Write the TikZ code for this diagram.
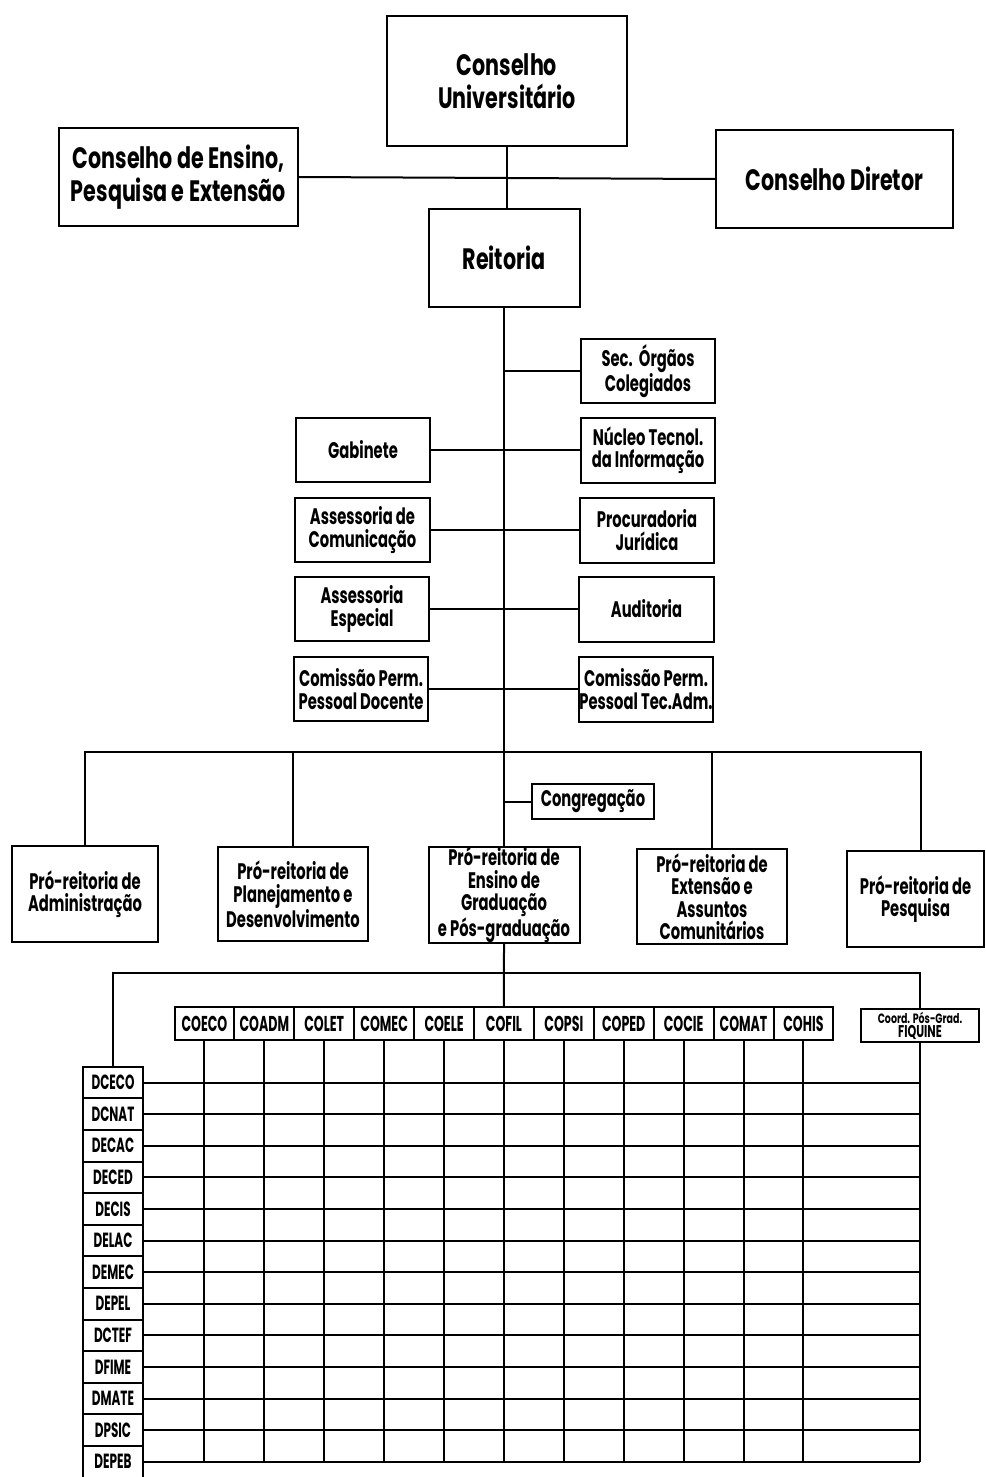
\documentclass[tikz,border=0pt]{standalone}
\usepackage{fontspec}
\setmainfont{Poppins}
\newfontfamily\fA{Poppins}[FakeStretch=0.70]
\newfontfamily\fB{Poppins}[FakeStretch=0.655]
\newfontfamily\fC{Poppins}[FakeStretch=0.585]
\tikzset{
  box/.style={draw, line width=2pt, fill=white, inner sep=0pt, align=center},
  big/.style={box, font=\fA\bfseries\fontsize{29.5}{33}\selectfont},
  mid/.style={box, font=\fB\bfseries\fontsize{22.5}{22.5}\selectfont},
  hdr/.style={box, font=\fC\bfseries\fontsize{21.5}{20}\selectfont, minimum width=59.9, minimum height=33},
  rowb/.style={box, font=\fC\bfseries\fontsize{20.5}{19}\selectfont, minimum width=60, minimum height=31.6},
  ln/.style={line width=2pt}
}
\begin{document}
\begin{tikzpicture}[x=1pt,y=-1pt]
\fill[white] (0,0) rectangle (985,1477);
\useasboundingbox (0,0) rectangle (985,1477);
% top councils
\node[big, minimum width=240, minimum height=130] (cu) at (507,81) {Conselho\\Universitário};
\node[big, minimum width=239, minimum height=97] (ce) at (178.5,177) {Conselho de Ensino,\\Pesquisa e Extensão};
\node[big, minimum width=237, minimum height=97] (cd) at (834.5,179) {Conselho Diretor};
\node[big, minimum width=151, minimum height=98] (rei) at (504,258) {Reitoria};
% staff units
\node[mid, minimum width=134, minimum height=64] (sec) at (648,371) {Sec.~~Órgãos\\Colegiados};
\node[mid, minimum width=134, minimum height=64] (gab) at (363,450) {Gabinete};
\node[mid, minimum width=134, minimum height=65] (nuc) at (648,450) {Núcleo Tecnol.\\da Informação};
\node[mid, minimum width=135, minimum height=64] (ass) at (362.5,530) {Assessoria de\\Comunicação};
\node[mid, minimum width=134, minimum height=65] (proc) at (647,530) {Procuradoria\\Jurídica};
\node[mid, minimum width=134, minimum height=64] (esp) at (362,609) {Assessoria\\Especial};
\node[mid, minimum width=135, minimum height=65] (aud) at (646.5,609) {Auditoria};
\node[mid, minimum width=134, minimum height=64] (cpd) at (361,689) {Comissão Perm.\\Pessoal Docente};
\node[mid, minimum width=134, minimum height=65] (cpt) at (646,689) {Comissão Perm.\\Pessoal Tec.Adm.};
% congregacao and pro-reitorias
\node[mid, minimum width=122, minimum height=35] (cong) at (593,801.5) {Congregação};
\node[mid, minimum width=146, minimum height=96] (adm) at (85,894) {Pró-reitoria de\\Administração};
\node[mid, minimum width=150, minimum height=94] (pla) at (293,894) {Pró-reitoria de\\Planejamento e\\Desenvolvimento};
\node[mid, minimum width=151, minimum height=96] (ens) at (504,895) {Pró-reitoria de\\Ensino de\\Graduação\\e Pós-graduação};
\node[mid, minimum width=150, minimum height=95] (ext) at (712,896.5) {Pró-reitoria de\\Extensão e\\Assuntos\\Comunitários};
\node[mid, minimum width=137, minimum height=96] (pes) at (915.5,899) {Pró-reitoria de\\Pesquisa};
% table headers
\foreach \t [count=\i from 0] in {COECO,COADM,COLET,COMEC,COELE,COFIL,COPSI,COPED,COCIE,COMAT,COHIS}
  \node[hdr] (h\i) at ({204.45+59.9*\i},1023.5) {\t};
\node[box, minimum width=118, minimum height=33] (fiq) at (920,1025.5)
  {\fA\bfseries\fontsize{13.5}{12}\selectfont Coord. Pós-Grad.\\[1pt]\fB\bfseries\fontsize{17}{13}\selectfont FIQUINE};
\foreach \t [count=\i from 0] in {DCECO,DCNAT,DECAC,DECED,DECIS,DELAC,DEMEC,DEPEL,DCTEF,DFIME,DMATE,DPSIC,DEPEB}
  \node[rowb] (r\i) at (113,{1082.5+31.6*\i}) {\t};
% connectors, top
\draw[ln] (cu.south) -- (cu.south |- rei.north);
\draw[ln] (ce.east) -- (cd.west);
\draw[ln] (rei.south) -- (ens.north);
\draw[ln] (sec.west -| rei.south) -- (sec.west);
\draw[ln] (gab.east) -- (nuc.west);
\draw[ln] (ass.east) -- (proc.west);
\draw[ln] (esp.east) -- (aud.west);
\draw[ln] (cpd.east) -- (cpt.west);
\draw[ln] (cong.west -| rei.south) -- (cong.west);
% pro-reitoria bus
\coordinate (busL) at (85,752);
\coordinate (busR) at (921,752);
\draw[ln] (adm.north) -- (busL) -- (busR) -- (busR |- pes.north);
\draw[ln] (pla.north) -- (pla.north |- busL);
\draw[ln] (ext.north) -- (ext.north |- busL);
% table bus
\coordinate (tL) at (113,973);
\coordinate (tR) at (920,973);
\draw[ln] (ens.south) -- (h5.north);
\draw[ln] (r0.north) -- (tL) -- (tR) -- (fiq.north);
% grid
\foreach \i in {0,...,12} \draw[ln] (r\i.east) -- (r\i.east -| fiq.south);
\foreach \i in {0,...,10} \draw[ln] (h\i.south) -- (h\i.south |- r12.east);
\draw[ln] (fiq.south) -- (fiq.south |- r12.east);
\end{tikzpicture}
\end{document}
